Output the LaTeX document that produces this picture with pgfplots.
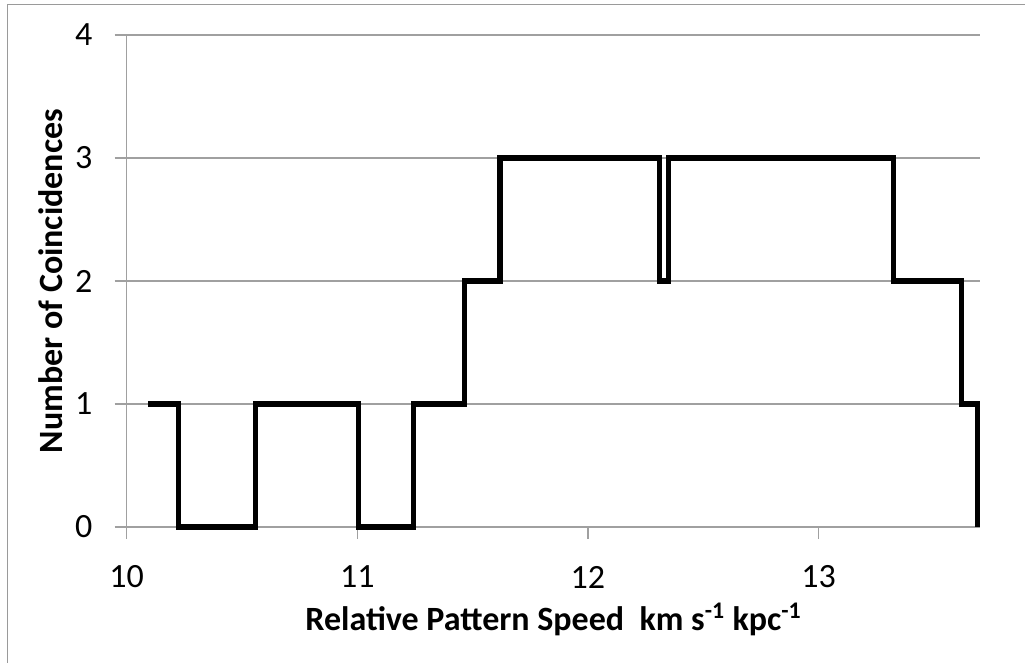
\documentclass[border=0pt]{standalone}
\usepackage{fontspec}
\setmainfont{Carlito}
\usepackage{pgfplots}
\pgfplotsset{compat=1.18}
\definecolor{gridgray}{HTML}{A0A0A0}
\definecolor{bordergray}{HTML}{9A9A9A}
\begin{document}
\begin{tikzpicture}[x=1pt,y=1pt]
\useasboundingbox (-95,-101.25) rectangle (673.7,395.25);
\draw[bordergray,line width=1.1pt] (-89.5,-110) -- (-89.5,392) -- (690,392);
\begin{axis}[
  at={(0,0)}, anchor=south west,
  scale only axis,
  width=640pt, height=369pt,
  xmin=10, xmax=13.7,
  ymin=0, ymax=4,
  xtick={10,11,12,13},
  ytick={0,1,2,3,4},
  axis x line*=bottom,
  axis y line*=left,
  axis line style={gridgray, line width=0.9pt, -},
  tick align=outside,
  major tick length=9pt,
  tick style={gridgray, line width=0.9pt},
  ymajorgrids,
  grid style={gridgray, line width=0.9pt},
  /pgf/number format/assume math mode=true,
  tick label style={font=\fontsize{25.5}{30}\selectfont, inner sep=0pt},
  yticklabel style={anchor=east, xshift=-16.5pt},
  xticklabel style={anchor=center, yshift=-28.5pt},
  xlabel={Relative Pattern Speed\ \ km s\textsuperscript{-1} kpc\textsuperscript{-1}},
  ylabel={Number of Coincidences},
  label style={font=\bfseries\fontsize{25.5}{30}\selectfont, inner sep=0pt},
  xlabel style={at={(axis description cs:0.5,-0.187)}, anchor=center},
  ylabel style={at={(axis description cs:-0.089,0.5)}, anchor=center},
  clip=false,
]
\addplot[const plot, black, line width=4pt, line join=miter, line cap=butt] coordinates {
(10.094,1) (10.224,0) (10.558,1) (11.005,0) (11.243,1) (11.464,2) (11.619,3)
(12.309,2) (12.348,3) (13.326,2) (13.620,1) (13.690,0)
};
\end{axis}
\end{tikzpicture}
\end{document}
